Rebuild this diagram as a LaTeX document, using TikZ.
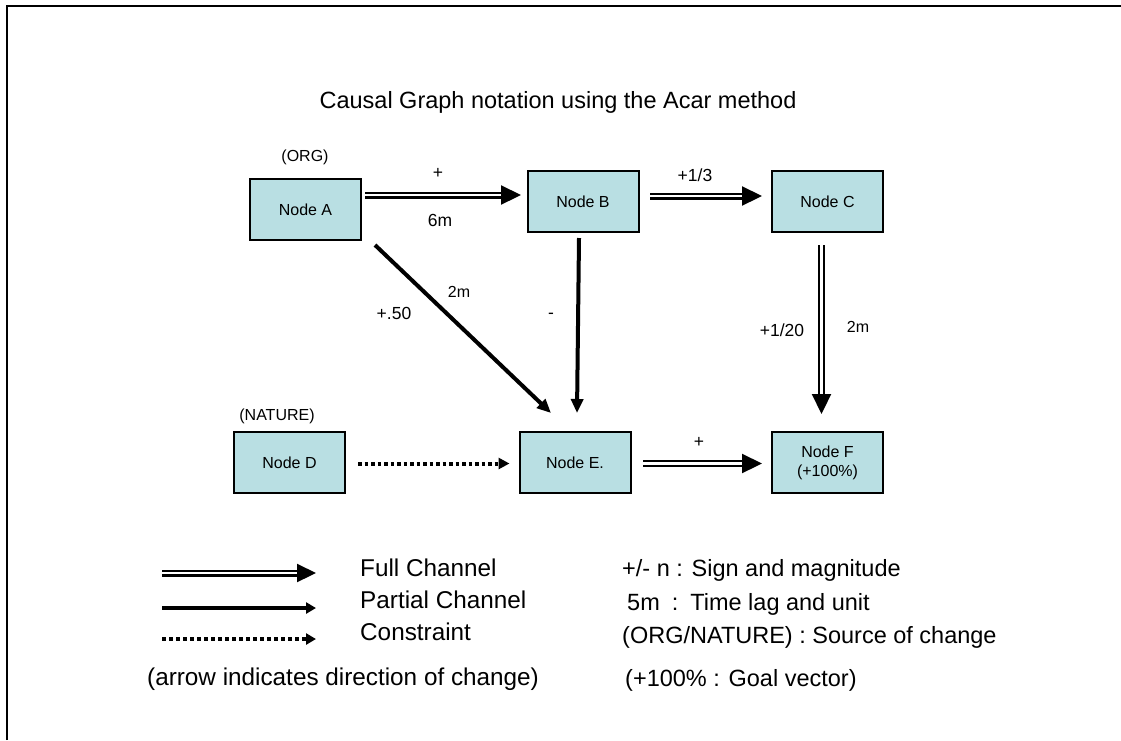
\documentclass[tikz,border=0pt]{standalone}
\usepackage{fontspec}
\setmainfont{Liberation Sans}
\usetikzlibrary{arrows.meta,calc}
\definecolor{boxfill}{RGB}{185,223,227}
\begin{document}
\begin{tikzpicture}[x=1pt,y=-1pt,
  box/.style={draw=black, line width=2pt, fill=boxfill, minimum width=111pt, minimum height=61pt, inner sep=0pt, align=center, font=\fontsize{16}{19}\selectfont},
  lbl/.style={font=\fontsize{16}{19}\selectfont, inner sep=0pt},
  mag/.style={font=\fontsize{17.5}{20}\selectfont, inner sep=0pt},
  big/.style={font=\fontsize{23.5}{28}\selectfont, inner sep=0pt},
  bigl/.style={font=\fontsize{24.3}{28}\selectfont, inner sep=0pt},
  full/.style={double, line width=2.2pt, double distance=2.6pt, -{Triangle[length=20pt,width=19pt]}},
  partial/.style={line width=4pt, -{Triangle[length=14pt,width=12pt]}},
  constraint/.style={line width=4pt, dash pattern=on 3.5pt off 3pt, -{Triangle[length=11pt,width=11pt]}},
  frame/.style={line width=2pt}
]
\useasboundingbox (0,0) rectangle (1121,740);
\draw[frame] (7,740) -- (7,5.5) -- (1121,5.5);

\node[big, anchor=base] (title) at (558,108) {Causal Graph notation using the Acar method};

\node[box] (A) at (305.5,209.5) {Node A};
\node[box] (B) at (583,201.5) {Node B};
\node[box] (C) at (827.5,201.5) {Node C};
\node[box] (D) at (289.5,462.5) {Node D};
\node[box] (E) at (575,462.5) {Node E.};
\node[box] (F) at (827.5,462.5) {Node F\\(+100\%)};

\node[lbl] (org) at (305,157) {(ORG)};
\node[lbl] (nat) at (277,416) {(NATURE)};

% A -> B
\coordinate (ab) at ([yshift=14.5pt]A.east);
\draw[full, shorten <=3pt, shorten >=5.5pt] (ab) -- (ab -| B.west);
% B -> C
\coordinate (bc) at ([yshift=5.5pt]B.east);
\draw[full, shorten <=10.5pt, shorten >=9pt] (bc) -- (bc -| C.west);
% C -> F
\coordinate (cf) at ([xshift=-6pt]C.south);
\draw[full, shorten <=12pt, shorten >=17pt] (cf) -- (cf |- F.north);
% E -> F
\coordinate (ef) at ([yshift=-1pt]E.east);
\draw[full, shorten <=11.5pt, shorten >=9pt] (ef) -- (ef -| F.west);
% D -> E
\coordinate (de) at ([yshift=-1pt]D.east);
\draw[constraint, shorten <=12pt, shorten >=9pt] (de) -- (de -| E.west);
% A -> E
\draw[partial] ([shift={(13pt,-4pt)}]A.south east) -- ([shift={(32.5pt,18pt)}]E.north west);
% B -> E
\draw[partial] ([shift={(-4pt,-5pt)}]B.south) -- ([shift={(2pt,18pt)}]E.north);

\node[mag] (pab) at (438,173) {+};
\node[mag] (lab) at (440,220) {6m};
\node[mag] (pbc) at (695,175) {+1/3};
\node[mag] (pae) at (394,313) {+.50};
\node[lbl] (lae) at (459,292) {2m};
\node[mag] (pbe) at (551,316) {-};
\node[mag] (pcf) at (782,330) {+1/20};
\node[lbl] (lcf) at (858,327) {2m};
\node[mag] (pef) at (699,442) {+};

% legend
\coordinate (f1) at (162,573); \coordinate (f2) at (316,573);
\draw[full, -{Triangle[length=19pt,width=18pt]}] (f1) -- (f2);
\coordinate (p1) at (162,608); \coordinate (p2) at (316,608);
\draw[partial, -{Triangle[length=10pt,width=11pt]}] (p1) -- (p2);
\coordinate (c1) at (162,639); \coordinate (c2) at (316,639);
\draw[constraint, dash pattern=on 3.5pt off 3.5pt, -{Triangle[length=10pt,width=11pt]}] (c1) -- (c2);

\node[bigl, anchor=base west] (t1) at (360,576) {Full Channel};
\node[bigl, anchor=base west] (t2) at (360,608) {Partial Channel};
\node[bigl, anchor=base west] (t3) at (360,640) {Constraint};
\node[bigl, anchor=base west] (t4) at (147,685) {(arrow indicates direction of change)};
\node[big, anchor=base west] (t5) at (622,576) {+/- n : Sign and magnitude};
\node[big, anchor=base west] (t6) at (627,610) {5m\hspace{12pt}:\hspace{12pt}Time lag and unit};
\node[big, anchor=base west] (t7) at (622,643) {(ORG/NATURE) : Source of change};
\node[big, anchor=base west] (t8) at (625,686) {(+100\% : Goal vector)};
\end{tikzpicture}
\end{document}
